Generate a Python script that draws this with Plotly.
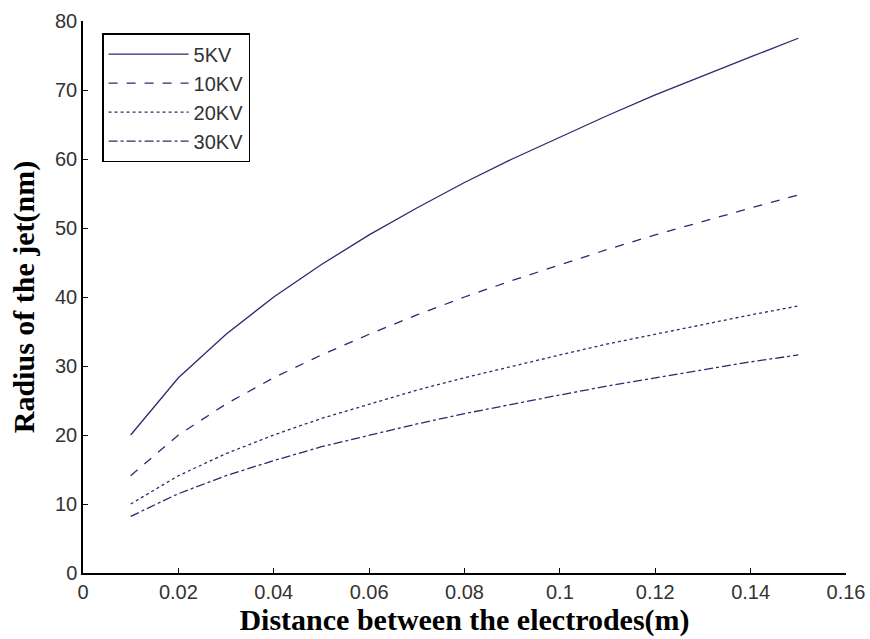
import plotly.graph_objects as go

distance = [0.01, 0.02, 0.03, 0.04, 0.05, 0.06, 0.07, 0.08, 0.09, 0.10, 0.11, 0.12, 0.13, 0.14, 0.15]
r_5kv = [20.0, 28.3, 34.6, 40.0, 44.7, 49.0, 52.9, 56.6, 60.0, 63.2, 66.3, 69.3, 72.1, 74.8, 77.5]
r_10kv = [14.1, 20.0, 24.5, 28.3, 31.6, 34.6, 37.4, 40.0, 42.4, 44.7, 46.9, 49.0, 51.0, 52.9, 54.8]
r_20kv = [10.0, 14.1, 17.3, 20.0, 22.4, 24.5, 26.5, 28.3, 30.0, 31.6, 33.2, 34.6, 36.1, 37.4, 38.7]
r_30kv = [8.2, 11.5, 14.1, 16.3, 18.3, 20.0, 21.6, 23.1, 24.5, 25.8, 27.1, 28.3, 29.4, 30.6, 31.6]

series = [("5KV", r_5kv, "solid"), ("10KV", r_10kv, "dash"),
          ("20KV", r_20kv, "dot"), ("30KV", r_30kv, "dashdot")]

line_color = "#2a2a6e"

fig = go.Figure()
for name, vals, dash in series:
    fig.add_trace(go.Scatter(x=distance, y=vals, mode="lines", name=name,
                             line=dict(color=line_color, width=1.3, dash=dash)))

axis_common = dict(showgrid=False, zeroline=False, showline=True, linecolor="#000",
                   linewidth=1.5, ticks="inside", ticklen=5, tickcolor="#000",
                   tickfont=dict(family="Liberation Sans, Arial", size=20, color="#333"),
                   mirror=False, automargin=False)

fig.update_layout(
    width=870, height=639,
    margin=dict(l=83, r=24, t=21, b=66),
    paper_bgcolor="white", plot_bgcolor="white",
    showlegend=True,
    legend=dict(x=0.025, y=0.978, xanchor="left", yanchor="top",
                bordercolor="#000", borderwidth=1.5, bgcolor="white",
                font=dict(family="Liberation Sans, Arial", size=20, color="#333"),
                itemwidth=80, tracegroupgap=0, entrywidth=155, entrywidthmode="pixels"),
    xaxis=dict(range=[0, 0.16], dtick=0.02, tickformat="~g",
               title=dict(text="<b>Distance between the electrodes(m)</b>",
                          font=dict(family="Liberation Serif, Times New Roman", size=30, color="#000"),
                          standoff=2),
               **axis_common),
    yaxis=dict(range=[0, 80], dtick=10,
               title=dict(text="<b>Radius of the jet(nm)</b>",
                          font=dict(family="Liberation Serif, Times New Roman", size=30, color="#000"),
                          standoff=12),
               **axis_common),
)

fig.write_html("out.html")
